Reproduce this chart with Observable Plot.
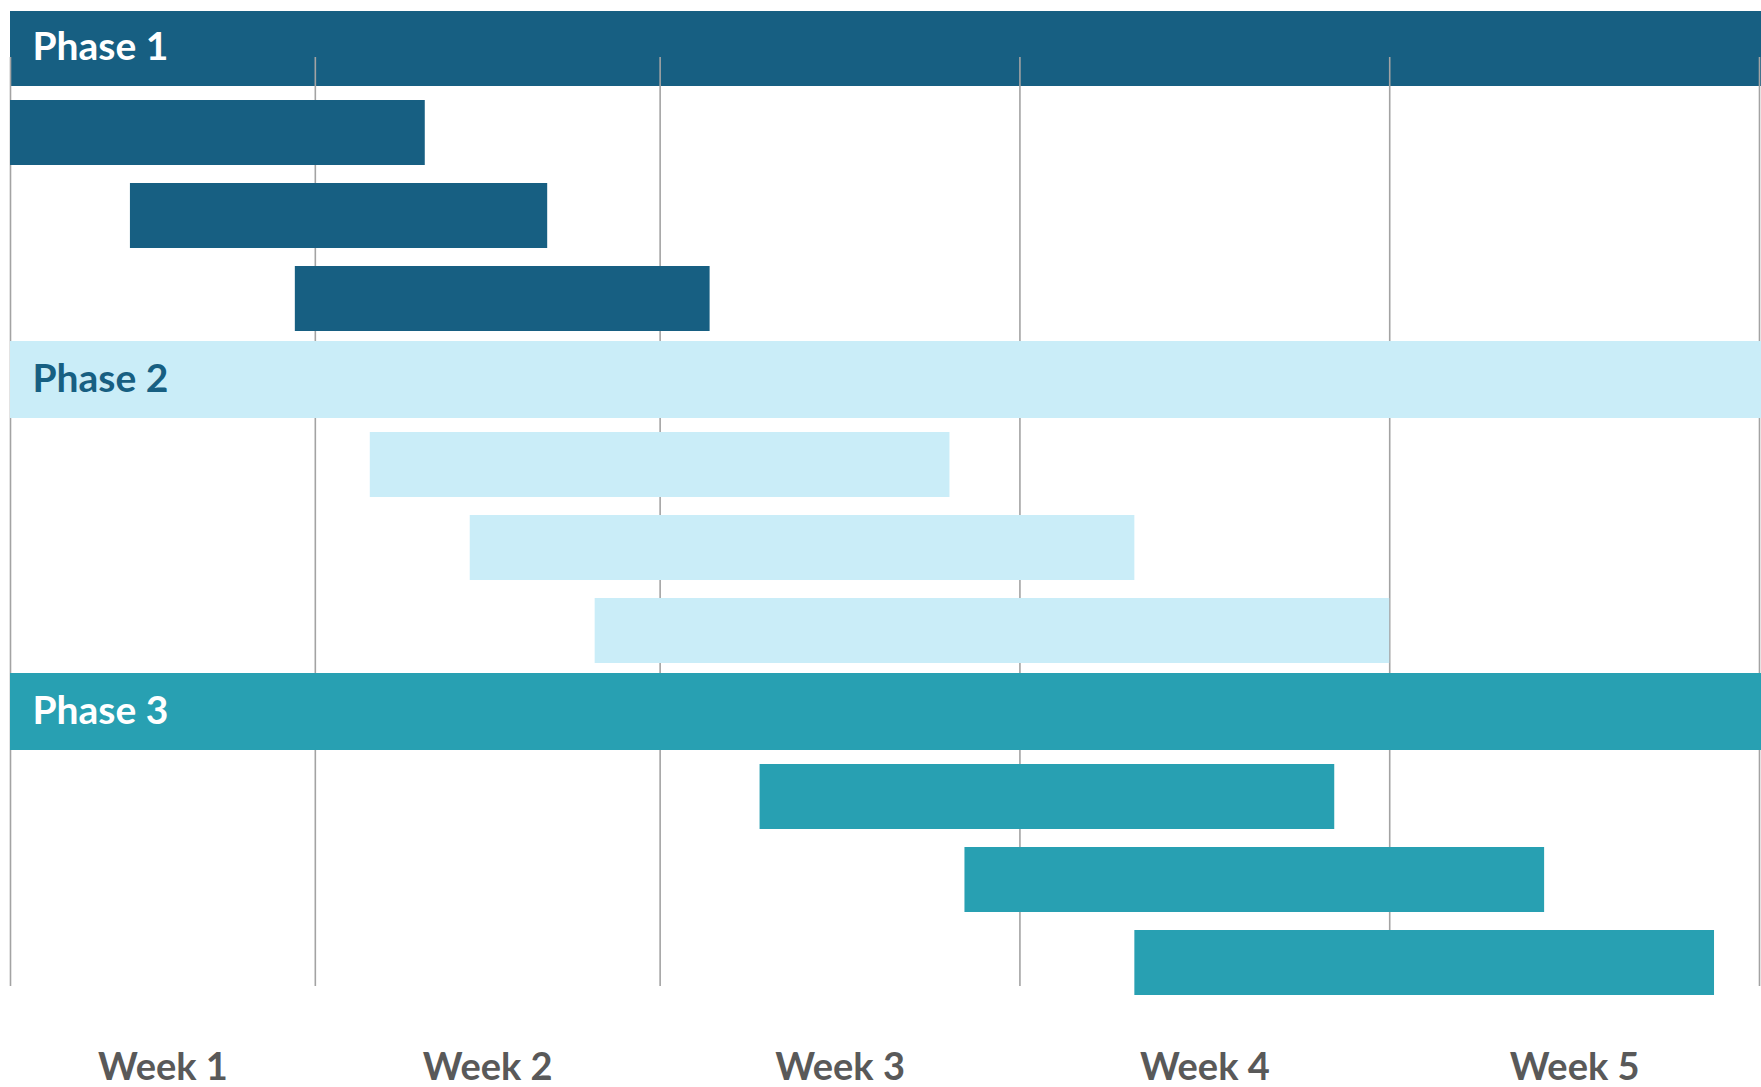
<!DOCTYPE html>
<html>
<head>
<meta charset="utf-8">
<script src="https://cdn.jsdelivr.net/npm/d3@7"></script>
<script src="https://cdn.jsdelivr.net/npm/@observablehq/plot@0.6"></script>
<style>
  html, body { margin: 0; padding: 0; background: #fff; }
  #chart svg { display: block; }
</style>
</head>
<body>
<div id="chart"></div>
<script>
// ---- data (x in days from start of Week 1) ----
const phases = ["Phase 1", "Phase 2", "Phase 3"];
const phaseStart = [0, 0, 0];
const phaseEnd = [35, 35, 35];

const taskPhase = [0, 0, 0, 1, 1, 1, 2, 2, 2];
const taskStart = [0, 2.4, 5.7, 7.2, 9.2, 11.7, 15.0, 19.1, 22.5];
const taskEnd   = [8.3, 10.75, 14.0, 18.8, 22.5, 27.6, 26.5, 30.7, 34.1];

const weekLabels = ["Week 1", "Week 2", "Week 3", "Week 4", "Week 5"];
const weekBounds = [0, 6.1, 13.0, 20.2, 27.6, 35];

// ---- build tables ----
const fills = ["#175F82", "#CAEDF8", "#28A0B2"];
const rows = [];
const headers = [];
const tasks = [];
phases.forEach((p, i) => {
  const hid = "H" + i;
  rows.push(hid);
  headers.push({row: hid, phase: i, label: p, start: phaseStart[i], end: phaseEnd[i]});
  taskPhase.forEach((tp, j) => {
    if (tp === i) {
      const tid = "T" + j;
      rows.push(tid);
      tasks.push({row: tid, phase: i, start: taskStart[j], end: taskEnd[j]});
    }
  });
});
const weeks = weekLabels.map((w, i) => ({label: w, mid: (weekBounds[i] + weekBounds[i + 1]) / 2}));

const chart = Plot.plot({
  width: 1761,
  height: 1087,
  marginTop: 57,
  marginBottom: 101,
  marginLeft: 10,
  marginRight: 2,
  style: {background: "#fff"},
  x: {domain: [0, 35], axis: null},
  y: {type: "band", domain: rows, range: [4, 1009], padding: 0, axis: null},
  marks: [
    Plot.barX(headers.filter(d => d.phase === 0), {
      x1: "start", x2: d => d.end + 0.05, y: "row", fill: d => fills[d.phase],
      insetTop: 2, insetBottom: 6
    }),
    Plot.ruleX(weekBounds, {stroke: "#a3a3a3", strokeWidth: 1.6}),
    Plot.barX(headers.filter(d => d.phase !== 0), {
      x1: "start", x2: d => d.end + 0.05, y: "row", fill: d => fills[d.phase],
      insetTop: 0, insetBottom: 6
    }),
    Plot.barX(tasks, {
      x1: "start", x2: "end", y: "row", fill: d => fills[d.phase],
      insetTop: 8, insetBottom: 10
    }),
    Plot.text(headers, {
      y: "row", text: "label", frameAnchor: "left", textAnchor: "start", dx: 22, dy: -3,
      lineAnchor: "middle",
      fill: d => d.phase === 1 ? "#175F82" : "#ffffff",
      fontSize: 39, fontWeight: "bold", fontFamily: "Lato, 'Open Sans', sans-serif"
    }),
    Plot.text(weeks, {
      x: "mid", text: "label", frameAnchor: "bottom", textAnchor: "middle",
      lineAnchor: "bottom", dy: 93,
      fill: "#595959", fontSize: 38, fontWeight: "bold",
      fontFamily: "Lato, 'Open Sans', sans-serif"
    })
  ]
});
document.getElementById("chart").appendChild(chart);
</script>
</body>
</html>
